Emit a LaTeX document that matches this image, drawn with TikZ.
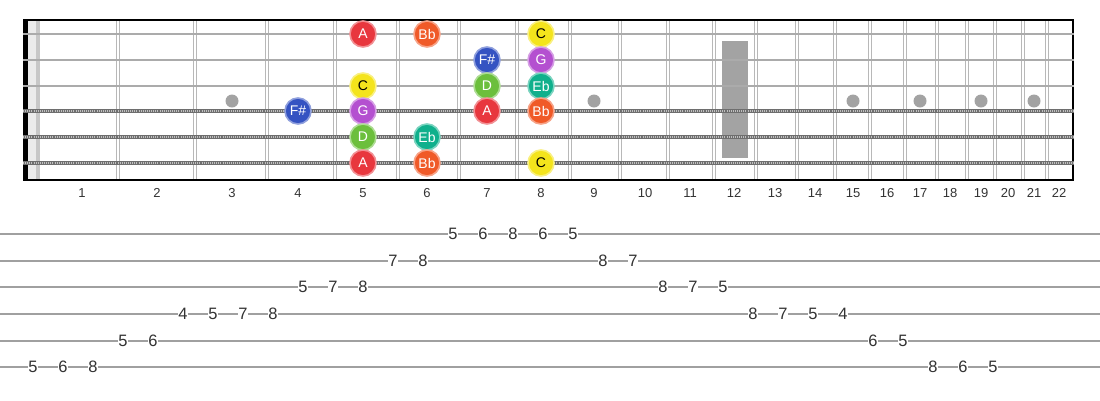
\documentclass[tikz,border=0pt]{standalone}
\usepackage{fontspec}
\setmainfont{Liberation Sans}
\definecolor{cA}{HTML}{E8373E}
\definecolor{cBb}{HTML}{F05A28}
\definecolor{cC}{HTML}{F4E41C}
\definecolor{cFs}{HTML}{3553C2}
\definecolor{cG}{HTML}{B450D0}
\definecolor{cD}{HTML}{6CBF3C}
\definecolor{cEb}{HTML}{10B08C}
\definecolor{fretgray}{HTML}{B8B8B8}
\definecolor{strgray}{HTML}{ABABAB}
\definecolor{woundgray}{HTML}{6E6E6E}
\definecolor{inlaygray}{HTML}{A3A3A3}
\definecolor{tabgray}{HTML}{A0A0A0}
\definecolor{txt}{HTML}{333333}
\tikzset{
  fretline/.style={draw=fretgray, line width=1.3pt},
  plainstr/.style={draw=strgray, line width=2.4pt},
  woundstr/.style={draw=woundgray, line width=4.2pt},
  woundtex/.style={draw=black!25, line width=2.2pt, dash pattern=on 1pt off 1.1pt},
  inlay/.style={circle, fill=inlaygray, minimum size=13pt, inner sep=0pt},
  fretnum/.style={font=\fontsize{13}{15}\selectfont, text=txt, inner sep=0pt},
  note/.style={circle, minimum size=26pt, inner sep=0pt, line width=1.6pt, font=\fontsize{14}{16}\selectfont, text=white},
  nA/.style={note, fill=cA, draw=cA!55!white},
  nBb/.style={note, fill=cBb, draw=cBb!55!white},
  nC/.style={note, fill=cC, draw=cC!55!white, text=black},
  nFs/.style={note, fill=cFs, draw=cFs!55!white},
  nG/.style={note, fill=cG, draw=cG!55!white},
  nD/.style={note, fill=cD, draw=cD!55!white},
  nEb/.style={note, fill=cEb, draw=cEb!55!white},
  tabline/.style={draw=tabgray, line width=1.4pt},
  tabnum/.style={fill=white, inner xsep=0.6pt, inner ysep=0pt, font=\fontsize{16.5}{18}\selectfont, text=txt},
}
\begin{document}
\begin{tikzpicture}[x=1pt,y=-1pt]
\useasboundingbox (0,0) rectangle (1100,400);
\fill[white] (0,0) rectangle (1100,400);
% nut
\fill[black!8] (28,20) rectangle (36,180);
\fill[black!22] (36,20) rectangle (40,180);
% frets
\foreach \x in {118,195,267,335,398,459,517,570,620,668,714,756,797,835,870,905,937,967,995,1023,1047}{
  \draw[fretline] (\x-1.8,20) -- (\x-1.8,180);
  \draw[fretline] (\x+1.8,20) -- (\x+1.8,180);
}
% 12th fret marker
\fill[inlaygray] (722,41) rectangle (748,158);
% inlay dots
\foreach \x/\n in {232/3,363/5,487/7,594/9,853/15,920/17,981/19,1034/21}{
  \node[inlay] (dot\n) at (\x,101) {};
}
% border
\fill[black] (23,19) rectangle (28,181);
\draw[black, line width=2pt] (23,20) -- (1074,20);
\draw[black, line width=2pt] (23,180) -- (1074,180);
\draw[black, line width=2pt] (1073,19) -- (1073,181);
% strings
\foreach \y in {34,60,86}{
  \draw[plainstr] (23,\y) -- (1074,\y);
}
\foreach \y in {111,137,163}{
  \draw[woundstr] (23,\y) -- (1074,\y);
  \draw[woundtex] (23,\y) -- (1074,\y);
}
% fret numbers
\foreach \x/\n in {82/1,157/2,232/3,298/4,363/5,427/6,487/7,541/8,594/9,645/10,690/11,734/12,775/13,815/14,853/15,887/16,920/17,950/18,981/19,1008/20,1034/21,1059/22}{
  \node[fretnum] (fn\n) at (\x,193) {\n};
}
% notes
\node[nA]  (s1f5) at (363,34) {A};
\node[nBb] (s1f6) at (427,34) {Bb};
\node[nC]  (s1f8) at (541,34) {C};
\node[nFs] (s2f7) at (487,60) {F\#};
\node[nG]  (s2f8) at (541,60) {G};
\node[nC]  (s3f5) at (363,86) {C};
\node[nD]  (s3f7) at (487,86) {D};
\node[nEb] (s3f8) at (541,86) {Eb};
\node[nFs] (s4f4) at (298,111) {F\#};
\node[nG]  (s4f5) at (363,111) {G};
\node[nA]  (s4f7) at (487,111) {A};
\node[nBb] (s4f8) at (541,111) {Bb};
\node[nD]  (s5f5) at (363,137) {D};
\node[nEb] (s5f6) at (427,137) {Eb};
\node[nA]  (s6f5) at (363,163) {A};
\node[nBb] (s6f6) at (427,163) {Bb};
\node[nC]  (s6f8) at (541,163) {C};
% tab lines
\foreach \y/\k in {234/1,261/2,287/3,314/4,341/5,367/6}{
  \draw[tabline] (0,\y) -- (1100,\y);
}
% tab numbers
\foreach \i/\y/\t in {0/367/5,1/367/6,2/367/8,3/341/5,4/341/6,5/314/4,6/314/5,7/314/7,8/314/8,9/287/5,10/287/7,11/287/8,12/261/7,13/261/8,14/234/5,15/234/6,16/234/8,17/234/6,18/234/5,19/261/8,20/261/7,21/287/8,22/287/7,23/287/5,24/314/8,25/314/7,26/314/5,27/314/4,28/341/6,29/341/5,30/367/8,31/367/6,32/367/5}{
  \node[tabnum] (t\i) at (33+30*\i,\y) {\t};
}
\end{tikzpicture}
\end{document}
